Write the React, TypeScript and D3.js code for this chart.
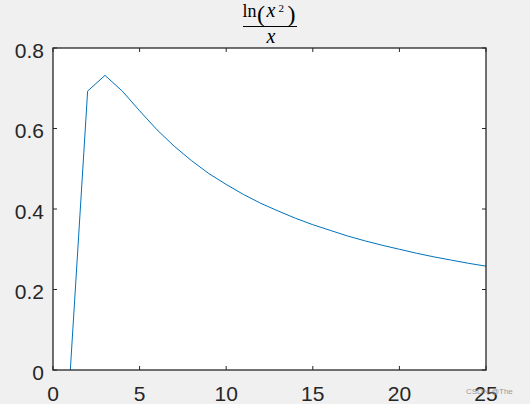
import React from "react";
import * as d3 from "d3";

const xValues = [1, 2, 3, 4, 5, 6, 7, 8, 9, 10, 11, 12, 13, 14, 15, 16, 17, 18, 19, 20, 21, 22, 23, 24, 25];
const yValues = [0, 0.693, 0.732, 0.693, 0.644, 0.597, 0.556, 0.52, 0.488, 0.461, 0.436, 0.414, 0.395, 0.377, 0.361, 0.347, 0.333, 0.321, 0.31, 0.3, 0.29, 0.281, 0.273, 0.265, 0.258];
const xTicks = [0, 5, 10, 15, 20, 25];
const yTicks = [0, 0.2, 0.4, 0.6, 0.8];

const W = 530, H = 404;
const L = 53, R = 486, T = 48, B = 370;

export default function App() {
  const x = d3.scaleLinear().domain([0, 25]).range([L, R]);
  const y = d3.scaleLinear().domain([0, 0.8]).range([B, T]);
  const line = d3.line<number>().x((_, i) => x(xValues[i])).y((d) => y(d));
  const tk = 4;
  const font = "'Liberation Sans', Arial, sans-serif";
  const serif = "'Liberation Serif', 'DejaVu Serif', serif";
  return (
    <svg width={W} height={H} style={{ position: "absolute", left: 0, top: 0, background: "#f0f0f0" }}>
      <rect x={0} y={0} width={W} height={H} fill="#f0f0f0" />
      <rect x={L} y={T} width={R - L} height={B - T} fill="#ffffff" />
      <path d={line(yValues) || ""} fill="none" stroke="#0072BD" strokeWidth={1} />
      {xTicks.map((t) => (
        <g key={"x" + t}>
          <line x1={x(t)} x2={x(t)} y1={B} y2={B - tk} stroke="#262626" />
          <line x1={x(t)} x2={x(t)} y1={T} y2={T + tk} stroke="#262626" />
          <text x={x(t)} y={401} textAnchor="middle" fontFamily={font} fontSize={21} fill="#262626">{t}</text>
        </g>
      ))}
      {yTicks.map((t) => (
        <g key={"y" + t}>
          <line x1={L} x2={L + tk} y1={y(t)} y2={y(t)} stroke="#262626" />
          <line x1={R} x2={R - tk} y1={y(t)} y2={y(t)} stroke="#262626" />
          <text x={44} y={y(t) + 9.5} textAnchor="end" fontFamily={font} fontSize={21} fill="#262626">{t === 0 ? "0" : String(t)}</text>
        </g>
      ))}
      <rect x={L} y={T} width={R - L} height={B - T} fill="none" stroke="#262626" strokeWidth={1.3} />
      <g fontFamily={serif} fill="#000">
        <text y={16.5} fontSize={18}>
          <tspan x={242.5}>ln</tspan>
          <tspan x={257} y={21.5} fontSize={24}>(</tspan>
          <tspan x={266.5} y={16.5} fontSize={20} fontStyle="italic">x</tspan>
          <tspan x={278.5} y={12} fontSize={11}>2</tspan>
          <tspan x={287.5} y={21.5} fontSize={24}>)</tspan>
        </text>
        <line x1={243} x2={297} y1={26.5} y2={26.5} stroke="#000" strokeWidth={1} />
        <text x={271} y={43} fontSize={20} fontStyle="italic" textAnchor="middle">x</text>
      </g>
      <text x={466} y={394} fontFamily={font} fontSize={8} fill="#999">CSDN @The</text>
    </svg>
  );
}
